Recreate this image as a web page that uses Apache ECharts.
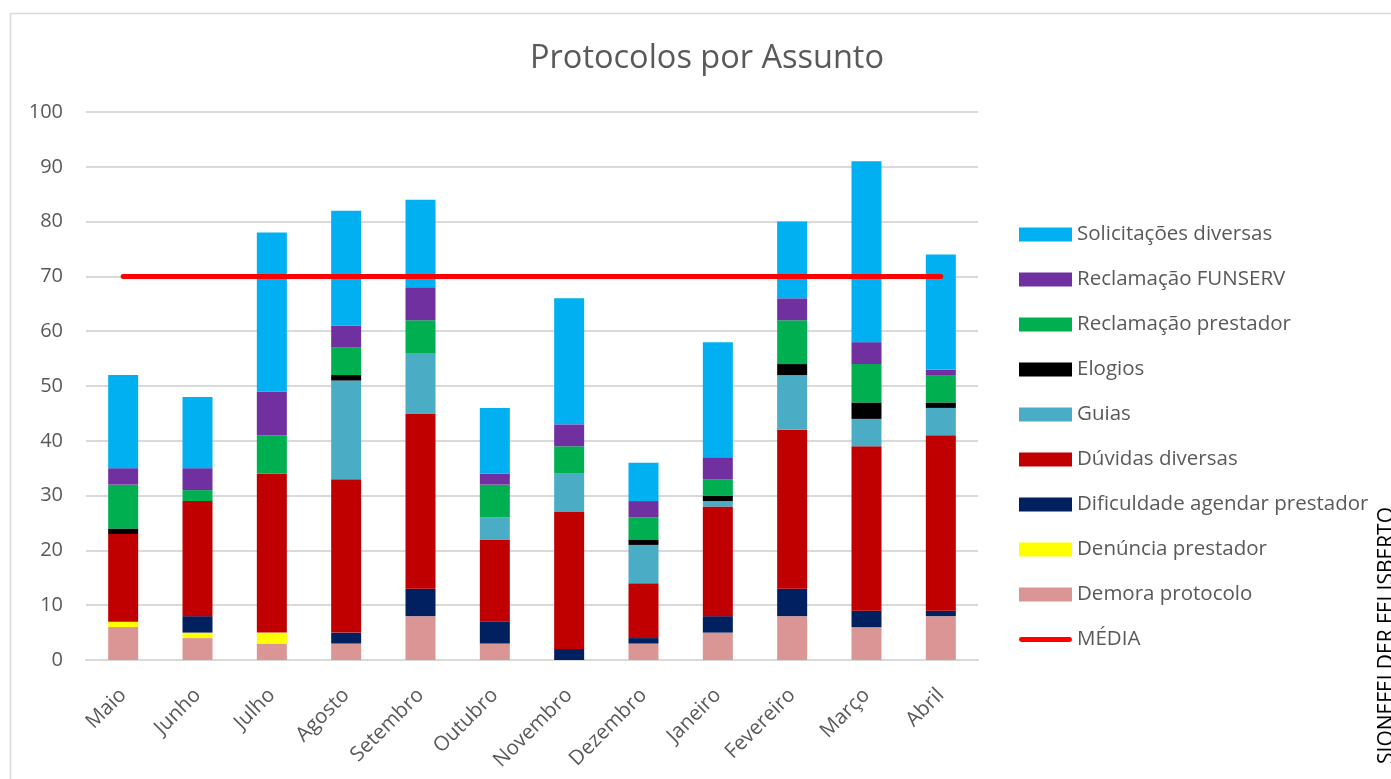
<!DOCTYPE html>
<html>
<head>
<meta charset="utf-8">
<script src="https://cdn.jsdelivr.net/npm/echarts@6/dist/echarts.min.js"></script>
<style>
html,body{margin:0;padding:0;background:#fff;}
#chart{width:1391px;height:779px;}
</style>
</head>
<body>
<div id="chart"></div>
<script>
const categories = ['Maio','Junho','Julho','Agosto','Setembro','Outubro','Novembro','Dezembro','Janeiro','Fevereiro','Março','Abril'];
const demoraProtocolo      = [6, 4, 3, 3, 8, 3, 0, 3, 5, 8, 6, 8];
const denunciaPrestador    = [1, 1, 2, 0, 0, 0, 0, 0, 0, 0, 0, 0];
const dificuldadeAgendar   = [0, 3, 0, 2, 5, 4, 2, 1, 3, 5, 3, 1];
const duvidasDiversas      = [16, 21, 29, 28, 32, 15, 25, 10, 20, 29, 30, 32];
const guias                = [0, 0, 0, 18, 11, 4, 7, 7, 1, 10, 5, 5];
const elogios              = [1, 0, 0, 1, 0, 0, 0, 1, 1, 2, 3, 1];
const reclamacaoPrestador  = [8, 2, 7, 5, 6, 6, 5, 4, 3, 8, 7, 5];
const reclamacaoFunserv    = [3, 4, 8, 4, 6, 2, 4, 3, 4, 4, 4, 1];
const solicitacoes         = [17, 13, 29, 21, 16, 12, 23, 7, 21, 14, 33, 21];
const media                = [70, 70, 70, 70, 70, 70, 70, 70, 70, 70, 70, 70];
const yTicks = [0, 10, 20, 30, 40, 50, 60, 70, 80, 90, 100];

const FONT = '"Open Sans", sans-serif';
const stackDefs = [
  ['Demora protocolo', demoraProtocolo, '#DA9694'],
  ['Denúncia prestador', denunciaPrestador, '#FFFF00'],
  ['Dificuldade agendar prestador', dificuldadeAgendar, '#002060'],
  ['Dúvidas diversas', duvidasDiversas, '#C00000'],
  ['Guias', guias, '#4BACC6'],
  ['Elogios', elogios, '#000000'],
  ['Reclamação prestador', reclamacaoPrestador, '#00B050'],
  ['Reclamação FUNSERV', reclamacaoFunserv, '#7030A0'],
  ['Solicitações diversas', solicitacoes, '#00B0F0']
];

const series = stackDefs.map(([name, data, color]) => ({
  name, type: 'bar', stack: 'total', data, barWidth: 30,
  itemStyle: { color }, emphasis: { disabled: true }
}));
series.push({
  name: 'MÉDIA', type: 'line', data: media, symbol: 'none', z: 10,
  lineStyle: { color: '#FF0000', width: 5, cap: 'round' },
  itemStyle: { color: '#FF0000' }
});

const legendNames = stackDefs.map(d => d[0]).reverse();
const legendData = legendNames.map(n => ({ name: n, icon: 'rect' }));
legendData.push({
  name: 'MÉDIA',
  icon: 'path://M0,0 L0,0 Z M54,14 L54,14 Z M2.5,4.5 L51.5,4.5 A2.5,2.5 0 0 1 51.5,9.5 L2.5,9.5 A2.5,2.5 0 0 1 2.5,4.5 Z',
  itemStyle: { color: '#FF0000' }
});

const chart = echarts.init(document.getElementById('chart'));
chart.setOption({
  animation: false,
  title: {
    text: 'Protocolos por Assunto', left: 702, top: 37, textAlign: 'center',
    textStyle: { fontFamily: FONT, fontSize: 32.5, fontWeight: 'normal', color: '#595959' }
  },
  legend: {
    orient: 'vertical', left: 1019, top: 224, padding: 0,
    itemWidth: 53, itemHeight: 14, itemGap: 24,
    data: legendData,
    textStyle: { fontFamily: FONT, fontSize: 20.5, color: '#595959', lineHeight: 21 }
  },
  grid: { left: 86, right: 413, top: 112, bottom: 119, containLabel: false },
  xAxis: {
    type: 'category', data: categories,
    axisLine: { lineStyle: { color: '#d9d9d9', width: 2 } },
    axisTick: { show: false },
    axisLabel: { rotate: 45, margin: 32, fontFamily: FONT, fontSize: 20.5, color: '#595959', interval: 0 }
  },
  yAxis: {
    type: 'value', min: yTicks[0], max: yTicks[yTicks.length - 1], interval: 10,
    axisLine: { show: false }, axisTick: { show: false },
    splitLine: { lineStyle: { color: '#d9d9d9', width: 2 } },
    axisLabel: { margin: 23, fontFamily: FONT, fontSize: 20, color: '#595959' }
  },
  graphic: [
    { type: 'rect', shape: { x: 10.5, y: 13.5, width: 1500, height: 900 }, style: { fill: 'none', stroke: '#d9d9d9', lineWidth: 1.5 }, z: -10 },
    { type: 'text', x: 1377, y: 507, rotation: Math.PI / 2,
      style: { text: 'SIONEFELDER FELISBERTO', font: '21px "Open Sans", sans-serif', fill: '#000', textAlign: 'right', textVerticalAlign: 'top' } }
  ],
  series
});
</script>
</body>
</html>
